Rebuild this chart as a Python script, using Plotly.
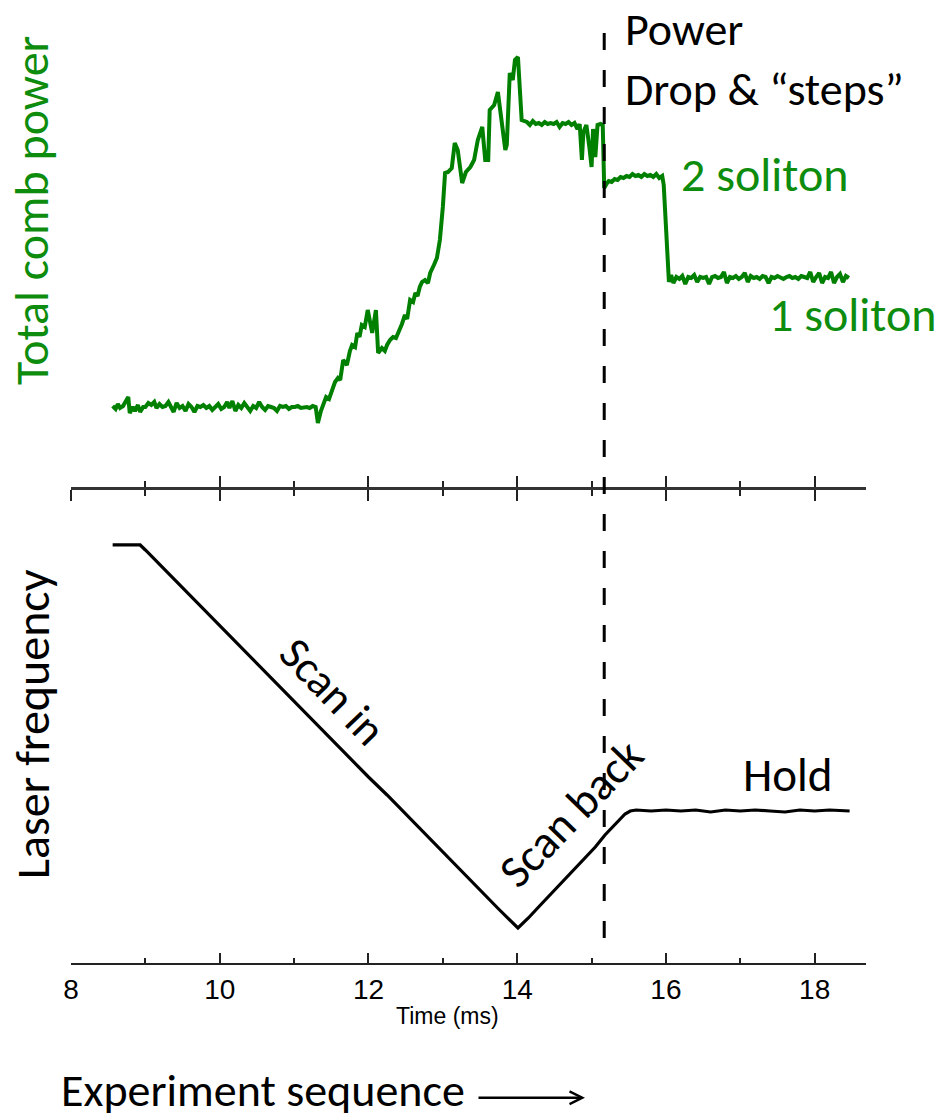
import plotly.graph_objects as go

# ---------------- data ----------------
# Total comb power (arbitrary units) vs time (ms)
power_t = [8.56, 8.60, 8.63, 8.66, 8.70, 8.74, 8.77, 8.79, 8.83, 8.86, 8.90, 8.93, 8.97, 9.00,
           9.04, 9.08, 9.12, 9.15, 9.19, 9.23, 9.27, 9.31, 9.34, 9.38, 9.42, 9.46, 9.50, 9.54,
           9.58, 9.62, 9.66, 9.70, 9.74, 9.78, 9.82, 9.86, 9.90, 9.94, 9.98, 10.02, 10.06, 10.10,
           10.13, 10.17, 10.21, 10.25, 10.29, 10.33, 10.37, 10.41, 10.45, 10.49, 10.53, 10.57,
           10.61, 10.65, 10.69, 10.73, 10.77, 10.81, 10.85, 10.89, 10.93, 10.97, 11.01, 11.05,
           11.09, 11.13, 11.17, 11.21, 11.25, 11.29, 11.32,
           11.36, 11.39, 11.43, 11.47, 11.52, 11.55, 11.59, 11.62, 11.66, 11.71, 11.75, 11.78,
           11.82, 11.85, 11.88, 11.91, 11.95, 11.99, 12.05, 12.10, 12.13,
           12.18, 12.22, 12.25, 12.29, 12.33, 12.37, 12.42, 12.45, 12.49, 12.52, 12.56, 12.60,
           12.63, 12.66, 12.69, 12.72, 12.76, 12.80, 12.83, 12.86, 12.88, 12.92,
           12.96, 13.00, 13.03, 13.07, 13.12, 13.16, 13.20, 13.26, 13.31, 13.37, 13.42, 13.47,
           13.53, 13.57, 13.61, 13.63, 13.69, 13.74, 13.77, 13.80, 13.84, 13.86, 13.90, 13.94,
           13.97, 14.01, 14.06,
           14.13, 14.17, 14.21, 14.25, 14.29, 14.33, 14.37, 14.41, 14.45, 14.49, 14.53, 14.57,
           14.61, 14.65, 14.69, 14.73, 14.77, 14.81, 14.84, 14.87, 14.89, 14.93, 14.97, 15.00,
           15.02, 15.05, 15.08, 15.12, 15.15, 15.16,
           15.17, 15.20, 15.23, 15.27, 15.31, 15.35, 15.39, 15.43, 15.47, 15.51, 15.55, 15.59,
           15.63, 15.67, 15.71, 15.75, 15.79, 15.83, 15.87, 15.91, 15.95, 15.97, 16.00, 16.02,
           16.04,
           16.07, 16.10, 16.14, 16.18, 16.22, 16.26, 16.30, 16.34, 16.38, 16.42, 16.46, 16.50,
           16.54, 16.58, 16.62, 16.66, 16.70, 16.74, 16.78, 16.82, 16.86, 16.90, 16.94, 16.98,
           17.02, 17.06, 17.10, 17.14, 17.18, 17.22, 17.26, 17.30, 17.34, 17.38, 17.42, 17.46,
           17.50, 17.54, 17.58, 17.62, 17.66, 17.70, 17.74, 17.78, 17.82, 17.86, 17.90, 17.94,
           17.98, 18.02, 18.06, 18.10, 18.14, 18.18, 18.22, 18.26, 18.30, 18.34, 18.38, 18.42,
           18.46]
power_v = [0.81, 0.78, 0.83, 0.79, 0.81, 0.87, 0.90, 0.74, 0.80, 0.76, 0.82, 0.75, 0.80, 0.80,
           0.84, 0.82, 0.85, 0.79, 0.83, 0.80, 0.81, 0.85, 0.80, 0.75, 0.84, 0.79, 0.81, 0.76,
           0.83, 0.80, 0.75, 0.81, 0.80, 0.82, 0.79, 0.81, 0.77, 0.80, 0.83, 0.78, 0.80, 0.85,
           0.79, 0.86, 0.76, 0.82, 0.79, 0.84, 0.80, 0.76, 0.81, 0.79, 0.85, 0.80, 0.77, 0.81,
           0.80, 0.79, 0.76, 0.81, 0.80, 0.81, 0.78, 0.80, 0.80, 0.81, 0.79, 0.80, 0.80, 0.79,
           0.81, 0.80, 0.64,
           0.76, 0.82, 0.90, 0.88, 0.97, 1.05, 1.09, 1.07, 1.27, 1.22, 1.36, 1.42,
           1.40, 1.54, 1.50, 1.62, 1.60, 1.77, 1.54, 1.77, 1.34,
           1.39, 1.36, 1.42, 1.47, 1.50, 1.49, 1.57, 1.63, 1.72, 1.68, 1.87, 1.85,
           1.94, 1.91, 2.00, 2.05, 2.07, 2.04, 2.14, 2.20, 2.22, 2.29,
           2.47, 2.80, 3.14, 3.15, 3.19, 3.44, 3.37, 3.04, 3.15, 3.20, 3.27, 3.47,
           3.60, 3.27, 3.27, 3.77, 3.82, 3.95, 3.77, 3.67, 3.37, 3.42, 4.14, 4.07,
           4.27, 4.30, 3.67,
           3.65, 3.62, 3.66, 3.63, 3.64, 3.62, 3.65, 3.63, 3.64, 3.63, 3.65, 3.60,
           3.64, 3.63, 3.65, 3.62, 3.64, 3.58, 3.63, 3.27, 3.55, 3.62, 3.40, 3.20,
           3.58, 3.30, 3.62, 3.63, 3.62, 3.05,
           2.99, 3.03, 3.06, 3.05, 3.08, 3.07, 3.10, 3.09, 3.11, 3.10, 3.13, 3.11,
           3.12, 3.10, 3.13, 3.11, 3.12, 3.10, 3.13, 3.09, 3.11, 3.02, 2.60, 2.15,
           2.05,
           2.12, 2.04, 2.10, 2.08, 2.11, 2.03, 2.10, 2.09, 2.12, 2.05, 2.10, 2.09,
           2.10, 2.03, 2.10, 2.11, 2.09, 2.10, 2.15, 2.04, 2.10, 2.09, 2.11, 2.08,
           2.10, 2.14, 2.05, 2.11, 2.09, 2.10, 2.08, 2.11, 2.10, 2.04, 2.10, 2.09,
           2.11, 2.10, 2.08, 2.10, 2.11, 2.09, 2.10, 2.08, 2.11, 2.10, 2.09, 2.15,
           2.05, 2.10, 2.14, 2.04, 2.10, 2.09, 2.15, 2.04, 2.10, 2.13, 2.05, 2.11,
           2.09]

# Laser frequency (arbitrary units) vs time (ms)
freq_t = [8.56, 8.93, 9.00, 9.25, 9.50, 9.75, 10.00, 10.25, 10.50, 10.75, 11.00, 11.25,
          11.50, 11.75, 12.00, 12.25, 12.50, 12.75, 13.00, 13.25, 13.50, 13.75, 14.01,
          14.15, 14.30, 14.45, 14.60, 14.75, 14.90, 15.05, 15.18, 15.28, 15.37, 15.45, 15.52,
          15.60, 15.80, 16.00, 16.20, 16.40, 16.60, 16.80, 17.00, 17.20, 17.40, 17.60, 17.80,
          18.00, 18.20, 18.47]
freq_v = [4.18, 4.18, 4.13, 3.94, 3.76, 3.56, 3.37, 3.19, 2.99, 2.81, 2.62, 2.43,
          2.24, 2.05, 1.86, 1.68, 1.49, 1.29, 1.11, 0.92, 0.73, 0.54, 0.35,
          0.45, 0.57, 0.69, 0.81, 0.92, 1.04, 1.16, 1.28, 1.36, 1.43, 1.49, 1.52,
          1.53, 1.52, 1.53, 1.52, 1.53, 1.51, 1.53, 1.52, 1.53, 1.52, 1.51, 1.53,
          1.52, 1.53, 1.52]

tick_vals = [8, 10, 12, 14, 16, 18]
event_t = 15.17   # power drop / "steps"

GREEN = "#008000"
TXT_GREEN = "#0E8C0E"
FONT = "Carlito, Calibri, Lato"

fig = go.Figure()
fig.add_trace(go.Scatter(x=power_t, y=power_v, mode="lines", xaxis="x2", yaxis="y",
                         line=dict(color=GREEN, width=4), hoverinfo="skip"))
fig.add_trace(go.Scatter(x=freq_t, y=freq_v, mode="lines", xaxis="x", yaxis="y2",
                         line=dict(color="black", width=3.2), hoverinfo="skip"))
# carrier for the upward tick marks of the middle axis
fig.add_trace(go.Scatter(x=[tick_vals[0]], y=[0], mode="markers", xaxis="x3", yaxis="y",
                         marker=dict(opacity=0), hoverinfo="skip"))

XR = [8, 18.69]
axis_common = dict(range=XR, showgrid=False, zeroline=False, tickmode="array",
                   tickvals=tick_vals, tickwidth=2, tickcolor="#222")

fig.update_layout(
    width=941, height=1120,
    margin=dict(l=71, r=75, t=0, b=157),
    paper_bgcolor="white", plot_bgcolor="white",
    showlegend=False,
    xaxis=dict(domain=[0, 1], anchor="y2", showline=True, linecolor="#222", linewidth=2,
               ticks="inside", ticklen=10, ticklabelstandoff=0,
               tickfont=dict(family="Liberation Sans", size=28, color="black"),
               minor=dict(dtick=1, tick0=8, ticks="inside", ticklen=5, tickwidth=1.5,
                          tickcolor="#222"),
               **axis_common),
    yaxis2=dict(domain=[0, 0.4912], range=[0, 4.73], visible=False),
    xaxis2=dict(domain=[0, 1], anchor="y", showline=True, linecolor="#333", linewidth=2.5,
                ticks="outside", ticklen=11, showticklabels=False,
                minor=dict(dtick=1, tick0=8, ticks="outside", ticklen=6, tickwidth=1.5,
                           tickcolor="#222"),
                **axis_common),
    xaxis3=dict(overlaying="x2", anchor="y", showline=False,
                ticks="inside", ticklen=11, showticklabels=False,
                minor=dict(dtick=1, tick0=8, ticks="inside", ticklen=6, tickwidth=1.5,
                           tickcolor="#222"),
                **axis_common),
    yaxis=dict(domain=[0.4943, 1], range=[0, 4.87], visible=False),
)

fig.add_shape(type="line", xref="x", yref="paper", x0=event_t, x1=event_t,
              y0=0.9657, y1=0.0083, line=dict(color="black", width=3, dash="17px,20px"))

def ann(text, x, y, xref, yref, size=48, color="black", angle=0, xanchor="center",
        yanchor="middle", family=FONT, yshift=0):
    fig.add_annotation(text=text, x=x, y=y, xref=xref, yref=yref, showarrow=False,
                       font=dict(family=family, size=size, color=color), textangle=angle,
                       xanchor=xanchor, yanchor=yanchor, align="left", borderpad=0,
                       yshift=yshift)

ann("Power<br>Drop &amp; “steps”", 15.44, 1.0, "x2", "paper", xanchor="left",
    yanchor="top", size=46)
ann("2 soliton", 17.33, 3.13, "x2", "y", color=TXT_GREEN)
ann("1 soliton", 18.51, 1.72, "x2", "y", color=TXT_GREEN)
ann("Total comb power", -0.049, 0.781, "paper", "paper", color=TXT_GREEN, angle=-90)
ann("Laser frequency", -0.049, 0.248, "paper", "paper", angle=-90)
ann("Scan in", 11.52, 2.71, "x", "y2", angle=46, size=45)
ann("Scan back", 14.72, 1.50, "x", "y2", angle=-46, size=46)
ann("Hold", 17.64, 1.88, "x", "y2", size=47)
ann("Time (ms)", 0.474, -0.055, "paper", "paper", size=23, family="Liberation Sans")
ann("Experiment sequence", -0.0138, -0.1615, "paper", "paper", xanchor="left",
    yanchor="bottom", size=46)

fig.add_annotation(x=(585 - 71) / 795, y=-0.140, ax=-108, ay=0,
                   xref="paper", yref="paper", axref="pixel", ayref="pixel",
                   showarrow=True, arrowhead=5, arrowsize=1, arrowwidth=2.5,
                   arrowcolor="black", text="")

fig.write_html("out.html")
